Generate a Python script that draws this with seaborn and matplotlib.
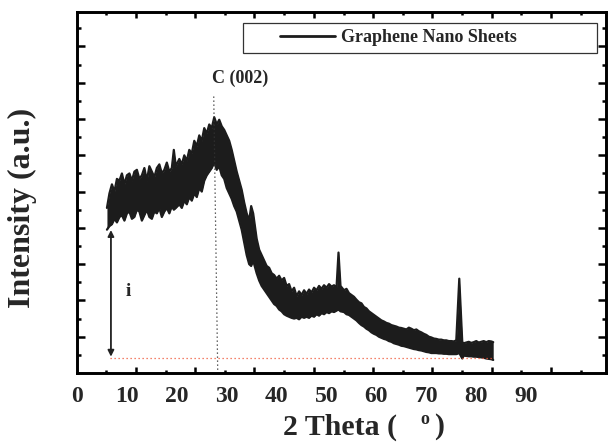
import numpy as np
import pandas as pd
import matplotlib
matplotlib.use("Agg")
import matplotlib.pyplot as plt
from matplotlib.lines import Line2D
from matplotlib.patches import Rectangle
import seaborn as sns

# XRD pattern of graphene nano sheets.
# The trace is so noisy it shows as a band, so keep its upper and lower edge.
two_theta = [6.0, 6.5, 7.0, 7.5, 8.0, 8.5, 9.0, 9.5, 10.0, 10.5, 11.0, 11.5,
             12.0, 12.5, 13.0, 13.5, 14.0, 14.5, 15.0, 15.5, 16.0, 16.5, 17.0,
             17.5, 18.0, 18.5, 19.0, 19.4, 19.8, 20.5, 21.0, 21.5, 22.0, 22.5,
             23.0, 23.5, 24.0, 24.5, 25.0, 25.5, 26.0, 26.5, 27.0, 27.5, 28.0,
             28.5, 29.0, 29.5, 30.0, 30.5, 31.0, 31.5, 32.0, 32.5, 33.0, 33.5,
             34.0, 34.5, 34.9, 35.3, 35.7, 36.0, 36.5, 37.0, 37.5, 38.0, 38.5,
             39.0, 39.5, 40.0, 40.5, 41.0, 41.5, 42.0, 42.5, 43.0, 43.5, 44.0,
             44.5, 45.0, 45.5, 46.0, 46.5, 47.0, 47.5, 48.0, 48.5, 49.0, 49.5,
             50.0, 50.5, 51.0, 51.5, 52.0, 52.4, 52.8, 53.5, 54.0, 54.5, 55.0,
             55.5, 56.0, 56.5, 57.0, 57.5, 58.0, 58.5, 59.0, 59.5, 60.0, 60.5,
             61.0, 61.5, 62.0, 62.5, 63.0, 63.5, 64.0, 64.5, 65.0, 65.5, 66.0,
             66.5, 67.0, 67.5, 68.0, 68.5, 69.0, 69.5, 70.0, 70.5, 71.0, 71.5,
             72.0, 72.5, 73.0, 73.5, 74.0, 74.5, 75.0, 75.5, 76.0, 76.6, 77.2,
             77.5, 78.0, 78.5, 79.0, 79.5, 80.0, 80.5, 81.0, 81.5, 82.0, 82.5,
             83.0, 83.4]
upper_env = [4.55, 4.95, 5.20, 5.00, 5.35, 5.30, 5.50, 5.20, 5.45, 5.50, 5.30,
             5.55, 5.60, 5.35, 5.45, 5.65, 5.30, 5.70, 5.55, 5.40, 5.65, 5.75,
             5.50, 5.60, 5.80, 5.55, 5.65, 6.15, 5.70, 5.90, 5.75, 6.00, 5.85,
             6.15, 6.05, 6.40, 6.25, 6.55, 6.40, 6.75, 6.60, 6.85, 6.75, 7.05,
             6.85, 6.98, 6.80, 6.70, 6.55, 6.40, 6.15, 5.85, 5.55, 5.30, 5.05,
             4.70, 4.40, 4.20, 4.60, 4.40, 4.00, 3.70, 3.40, 3.25, 3.10, 2.95,
             2.90, 2.75, 2.70, 2.60, 2.68, 2.55, 2.62, 2.40, 2.45, 2.25, 2.35,
             2.12, 2.25, 2.15, 2.28, 2.18, 2.30, 2.22, 2.35, 2.28, 2.40, 2.32,
             2.42, 2.35, 2.45, 2.38, 2.42, 2.35, 3.32, 2.40, 2.28, 2.32, 2.20,
             2.15, 2.10, 2.02, 1.95, 1.92, 1.82, 1.78, 1.70, 1.65, 1.60, 1.55,
             1.50, 1.45, 1.42, 1.38, 1.36, 1.32, 1.30, 1.28, 1.25, 1.24, 1.22,
             1.20, 1.25, 1.22, 1.18, 1.20, 1.15, 1.12, 1.08, 1.05, 1.00, 0.98,
             0.95, 0.94, 0.92, 0.92, 0.90, 0.90, 0.88, 0.88, 0.87, 0.90, 2.60,
             0.85, 0.82, 0.84, 0.86, 0.83, 0.85, 0.88, 0.84, 0.86, 0.88, 0.85,
             0.88, 0.87, 0.85]
lower_env = [3.95, 4.05, 4.10, 4.25, 4.15, 4.30, 4.35, 4.20, 4.40, 4.45, 4.25,
             4.30, 4.50, 4.45, 4.20, 4.35, 4.50, 4.30, 4.25, 4.45, 4.40, 4.55,
             4.30, 4.45, 4.55, 4.40, 4.60, 4.50, 4.55, 4.65, 4.55, 4.75, 4.65,
             4.85, 4.75, 4.95, 4.85, 5.10, 5.00, 5.30, 5.45, 5.55, 5.65, 5.80,
             5.60, 5.70, 5.45, 5.35, 5.10, 4.95, 4.80, 4.60, 4.45, 4.20, 3.95,
             3.60, 3.25, 3.00, 2.95, 3.10, 2.90, 2.75, 2.55, 2.40, 2.30, 2.20,
             2.10, 2.00, 1.90, 1.85, 1.75, 1.70, 1.62, 1.58, 1.55, 1.52, 1.50,
             1.52, 1.48, 1.55, 1.52, 1.55, 1.52, 1.58, 1.55, 1.62, 1.58, 1.65,
             1.62, 1.68, 1.65, 1.70, 1.68, 1.72, 1.75, 1.70, 1.68, 1.62, 1.60,
             1.55, 1.50, 1.45, 1.38, 1.32, 1.28, 1.22, 1.18, 1.12, 1.08, 1.05,
             1.00, 0.97, 0.94, 0.92, 0.88, 0.86, 0.82, 0.80, 0.78, 0.75, 0.74,
             0.72, 0.70, 0.68, 0.66, 0.65, 0.63, 0.62, 0.60, 0.58, 0.57, 0.55,
             0.55, 0.55, 0.54, 0.54, 0.53, 0.53, 0.52, 0.52, 0.52, 0.52, 0.55,
             0.40, 0.48, 0.47, 0.46, 0.46, 0.45, 0.45, 0.44, 0.43, 0.42, 0.40,
             0.39, 0.38, 0.36]

x_tick_labels = [0, 10, 20, 30, 40, 50, 60, 70, 80, 90]
series_name = "Graphene Nano Sheets"
peak_label = "C (002)"
peak_pos = [27.4, 28.2]      # dotted guide: top x, bottom x
peak_top = 7.62
baseline = 0.42
baseline_span = [6.6, 83.4]
arrow_x = 6.8
arrow_top = 3.94

sns.set_theme(style="white")
plt.rcParams["font.family"] = ["Liberation Serif", "DejaVu Serif"]
plt.rcParams["font.weight"] = "bold"
plt.rcParams["axes.labelweight"] = "bold"

fig = plt.figure(figsize=(6.10, 4.43), dpi=100)
ax = fig.add_axes([77 / 610, 70 / 443, 529 / 610, 361 / 443])

band = "#1c1c1c"
ax.fill_between(two_theta, lower_env, upper_env, color=band, lw=0, zorder=2)
edges = pd.concat([
    pd.DataFrame({"two_theta": two_theta, "intensity": upper_env, "edge": "upper"}),
    pd.DataFrame({"two_theta": two_theta, "intensity": lower_env, "edge": "lower"}),
])
sns.lineplot(data=edges, x="two_theta", y="intensity", units="edge",
             estimator=None, color=band, lw=1.6, ax=ax, zorder=3)

# guides
ax.plot(peak_pos, [peak_top, 0], ls=(0, (1, 2.2)), color="#333333", lw=0.9, zorder=4)
ax.plot(baseline_span, [baseline, baseline], ls=(0, (1, 2.2)), color="#f05a3c",
        lw=0.9, zorder=4)
ax.annotate("", xy=(arrow_x, baseline + 0.03), xytext=(arrow_x, arrow_top),
            arrowprops=dict(arrowstyle="<|-|>", color="#222222", lw=1.3,
                            mutation_scale=9, shrinkA=0, shrinkB=0), zorder=5)
ax.text(10.2, 2.24, "i", fontsize=14, ha="center", va="center")
ax.text(32.6, 8.13, peak_label, fontsize=13, ha="center", va="center")

ax.set_xlim(0, 106)
ax.set_ylim(0, 9.95)
ax.set_xticks(x_tick_labels)
ax.set_xticklabels([str(v) for v in x_tick_labels], fontsize=17)
ax.tick_params(axis="x", length=0, pad=9)
ax.set_yticks(np.arange(1, 10))
ax.set_yticks(np.arange(0.5, 10, 1), minor=True)
ax.tick_params(axis="y", which="both", direction="in", left=True, right=True,
               labelleft=False, width=1.8, color="black")
ax.tick_params(axis="y", which="major", length=6)
ax.tick_params(axis="y", which="minor", length=3.2)
ax.set_xlabel("")
ax.set_ylabel("")

# tick marks along x are spaced independently of the number labels
ax_t = ax.twiny()
ax_t.set_xlim(ax.get_xlim())
ax_t.set_xticks(11.8 + 11.88 * np.arange(8))
ax_t.set_xticks(5.9 + 11.88 * np.arange(9), minor=True)
ax_t.tick_params(axis="x", which="both", direction="in", top=True, bottom=True,
                 labeltop=False, labelbottom=False, width=1.8, color="black")
ax_t.tick_params(axis="x", which="major", length=4.5)
ax_t.tick_params(axis="x", which="minor", length=2.2)
ax_t.grid(False)
ax.grid(False)

for a in (ax, ax_t):
    for s in a.spines.values():
        s.set_linewidth(1.9)
        s.set_color("black")

ax.set_ylabel("Intensity (a.u.)", fontsize=23)
ax.yaxis.set_label_coords(-0.076, 0.458)
ax.set_xlabel("2 Theta (", fontsize=21.5)
ax.xaxis.set_label_coords((340 - 77) / 529, -0.112)
ax.text((439.5 - 77) / 529, -0.112, ")", fontsize=21.5, transform=ax.transAxes,
        ha="center", va="top", clip_on=False)
ax.text((425 - 77) / 529, (373 - 420) / 361, "o", fontsize=13,
        transform=ax.transAxes, ha="center", va="center", clip_on=False)

# legend box
ax.add_patch(Rectangle((0.314, 0.886), 0.669, 0.0835, transform=ax.transAxes,
                       fill=True, facecolor="white", edgecolor="#333333",
                       lw=0.9, zorder=6))
handle = Line2D([], [], color="#1c1c1c", lw=2.0)
leg = ax.legend([handle], [series_name], loc="center left",
                bbox_to_anchor=(0.384, 0.929), frameon=False, borderpad=0,
                borderaxespad=0, handlelength=3.05, handletextpad=0.33,
                prop={"family": "Liberation Serif", "weight": "bold", "size": 13})
leg.set_zorder(7)

fig.savefig("out.png", dpi=100)
